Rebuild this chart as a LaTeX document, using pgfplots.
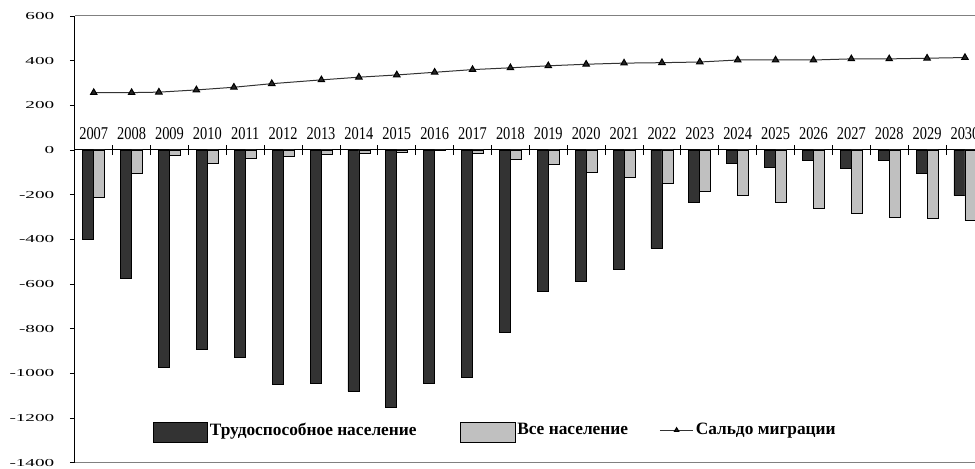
\documentclass[border=0pt]{standalone}
\usepackage{pgfplots}
\pgfplotsset{compat=1.18}
\usepackage{fontspec}
\setmainfont{Liberation Serif}
\definecolor{darkbar}{HTML}{333333}
\definecolor{lightbar}{HTML}{C0C0C0}
\newcommand\sy[1]{\scalebox{1.8}[1]{#1}}
\newcommand\yr[1]{\scalebox{0.8}[1]{#1}}
\pgfplotsset{
  bigbox/.style={legend image code/.code={\draw[##1,/tikz/.cd] (0pt,-9pt) rectangle (41pt,6pt);}},
  smallline/.style={legend image code/.code={\draw[mark repeat=2,mark phase=2,##1,mark size=1.8pt] plot coordinates {(0pt,0pt) (12.5pt,0pt) (25pt,0pt)};}},
}
\begin{document}
\begin{tikzpicture}
\begin{axis}[
  name=ax,
  scale only axis,
  width=675.15pt, height=335pt,
  xmin=-0.5, xmax=23.265,
  ymin=-1400, ymax=600,
  axis x line=middle, axis y line=left,
  axis line style={-, black, line width=0.75pt},
  tick align=center,
  xtick={0,...,23},
  xticklabels={\yr{2007},\yr{2008},\yr{2009},\yr{2010},\yr{2011},\yr{2012},\yr{2013},\yr{2014},\yr{2015},\yr{2016},\yr{2017},\yr{2018},\yr{2019},\yr{2020},\yr{2021},\yr{2022},\yr{2023},\yr{2024},\yr{2025},\yr{2026},\yr{2027},\yr{2028},\yr{2029},\yr{2030}},
  minor xtick={0.5,1.5,...,22.5},
  major x tick style={draw=none},
  minor x tick style={black, line width=0.6pt},
  minor tick length=7.5pt,
  major tick length=3.75pt,
  y tick style={xshift=-1.875pt, black, line width=0.6pt},
  xticklabel style={font=\fontsize{13.5}{13.5}\selectfont, anchor=base, yshift=9.5pt},
  ytick={-1400,-1200,-1000,-800,-600,-400,-200,0,200,400,600},
  yticklabels={\sy{-1400},\sy{-1200},\sy{-1000},\sy{-800},\sy{-600},\sy{-400},\sy{-200},\sy{0},\sy{200},\sy{400},\sy{600}},
  yticklabel style={font=\fontsize{8}{8}\selectfont, anchor=east, inner sep=0pt, xshift=-13.3pt},
  legend columns=3,
  legend style={at={(axis cs:1.546,-1261)}, anchor=west, draw=none, fill=none, inner sep=0pt,
    font=\bfseries\fontsize{13}{13}\selectfont,
    nodes={inner sep=1.5pt},
    /tikz/column 2/.style={column sep=31pt},
    /tikz/column 4/.style={column sep=22pt}},
]
\draw[gray, line width=0.75pt] (rel axis cs:0,1) -- (rel axis cs:1,1);
\draw[gray, line width=0.75pt] (rel axis cs:0,0) -- (rel axis cs:1,0);

\addplot[ybar, bar width=0.29, bar shift=-0.145, fill=darkbar, draw=black, line width=0.5pt, bigbox] coordinates {
(0,-398) (1,-575) (2,-971) (3,-891) (4,-929) (5,-1050) (6,-1045) (7,-1081) (8,-1151) (9,-1045) (10,-1018) (11,-815)
(12,-633) (13,-590) (14,-536) (15,-440) (16,-234) (17,-60) (18,-76) (19,-48) (20,-84) (21,-48) (22,-106) (23,-204)};
\addplot[ybar, bar width=0.29, bar shift=0.145, fill=lightbar, draw=black, line width=0.5pt, bigbox] coordinates {
(0,-212) (1,-103) (2,-24) (3,-60) (4,-36) (5,-28) (6,-21) (7,-13) (8,-9) (9,-3) (10,-16) (11,-40)
(12,-63) (13,-98) (14,-122) (15,-149) (16,-185) (17,-204) (18,-234) (19,-262) (20,-285) (21,-302) (22,-308) (23,-316)};
\addplot[color=black!80, line width=0.75pt, mark=triangle*, mark size=2.8pt, mark options={fill=black!85, draw=black, solid}, smallline] coordinates {
(0,257) (1,257) (1.72,259) (2.71,269) (3.70,281) (4.70,297) (6.01,314) (7,326) (8,336) (9,348) (10,360) (11,368)
(12,377) (13,384) (14,389) (15,391) (16,394) (17,403) (18,403) (19,403) (20,408) (21,408) (22,411) (23,414)};
\legend{Трудоспособное население, Все население, Сальдо миграции}
\end{axis}
\pgfresetboundingbox
\useasboundingbox ([xshift=-56.1pt,yshift=-4pt]ax.south west) rectangle ([yshift=12pt]ax.north east);
\end{tikzpicture}
\end{document}
